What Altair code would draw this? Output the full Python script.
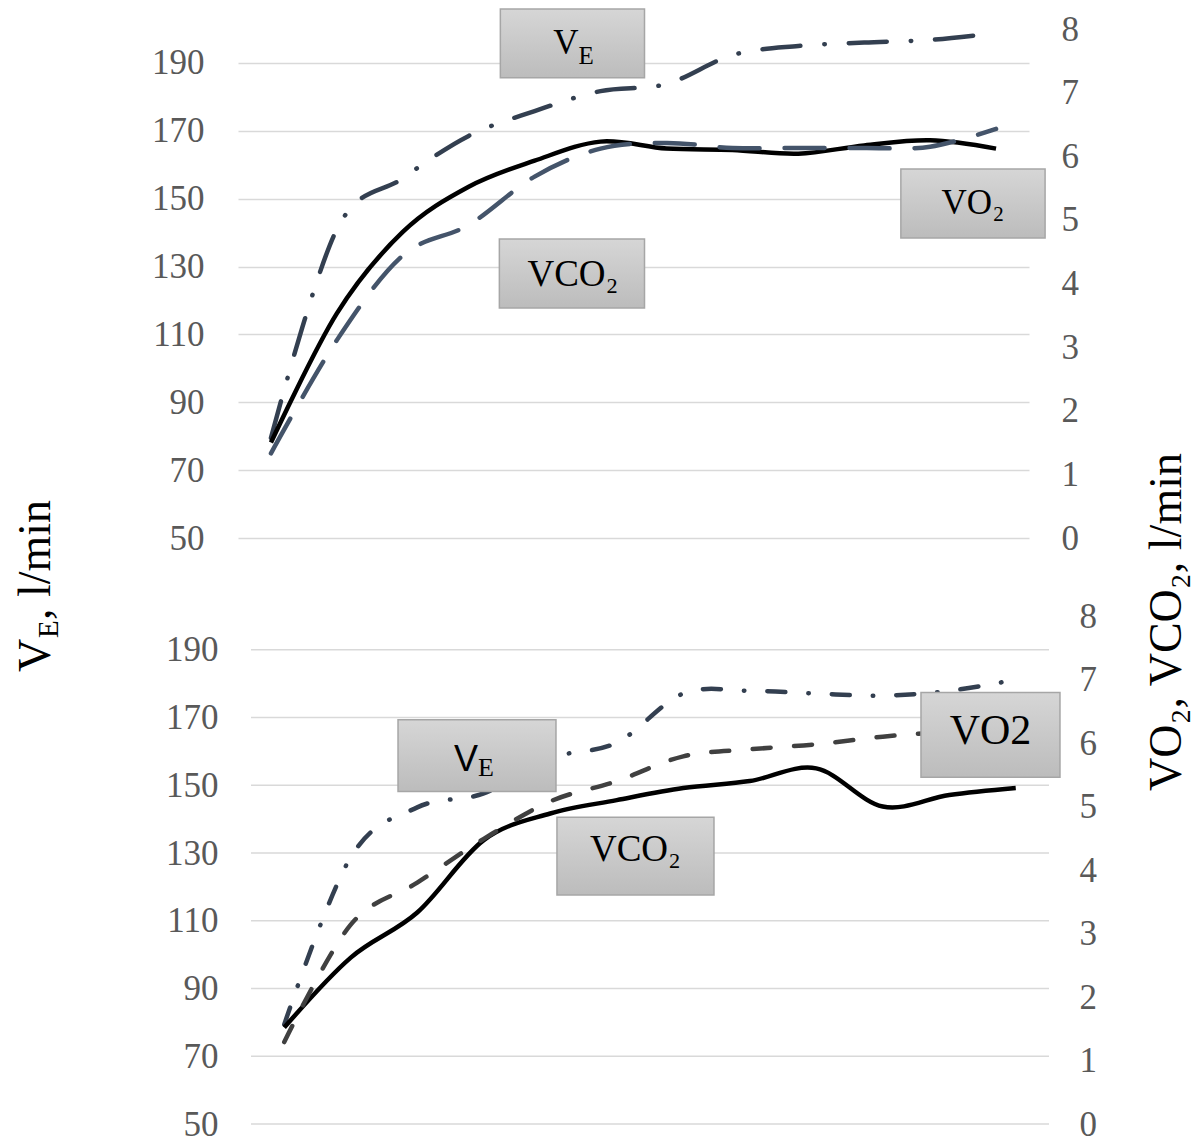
import altair as alt
import pandas as pd

# ---------------- data ----------------
idx = list(range(12))

top_ve = [79.5, 141.0, 156.0, 168.5, 175.8, 181.7, 183.8, 192.3, 195.0, 196.0, 196.8, 198.8]
top_vo2 = [1.50, 3.53, 4.81, 5.52, 5.93, 6.23, 6.12, 6.10, 6.04, 6.17, 6.25, 6.12]
top_vco2 = [1.33, 3.11, 4.44, 4.92, 5.68, 6.12, 6.21, 6.13, 6.13, 6.13, 6.15, 6.43]

bot_ve = [79.4, 128.8, 143.5, 147.6, 158.0, 162.6, 177.1, 177.9, 177.1, 176.5, 177.9, 181.2]
bot_vo2 = [1.52, 2.62, 3.33, 4.47, 4.89, 5.10, 5.29, 5.40, 5.60, 5.00, 5.18, 5.29]
bot_vco2 = [1.29, 3.14, 3.80, 4.49, 5.08, 5.40, 5.79, 5.90, 5.98, 6.10, 6.18, 6.26]

left_ticks = [50, 70, 90, 110, 130, 150, 170, 190]
right_ticks = [0, 1, 2, 3, 4, 5, 6, 7, 8]

# label boxes: name, x1, x2 (category index), y1, y2 (left-axis units)
top_boxes = [
    ("VE", 3.480, 5.667, 185.6, 205.9),
    ("VCO2", 3.465, 5.667, 117.8, 138.1),
    ("VO2", 9.556, 11.744, 138.4, 158.75),
]
bot_boxes = [
    ("VE", 1.711, 4.086, 148.2, 169.4),
    ("VCO2", 4.101, 6.462, 117.6, 140.6),
    ("VO2", 9.575, 11.665, 152.4, 177.4),
]

# ---------------- styles ----------------
SERIF = "Liberation Serif"
LABEL_COLOR = "#595959"
GRID = "#d9d9d9"
NAVY = "#333f50"
SLATE = "#44546a"
DARK = "#404040"

box_fill = alt.LinearGradient(
    gradient="linear",
    stops=[alt.GradientStop(color="#d6d6d6", offset=0),
           alt.GradientStop(color="#bcbcbc", offset=1)],
    x1=0, x2=0, y1=0, y2=1,
)


def panel(ve, vo2, vco2, boxes, texts, xdom, width, height,
          lpad, rpad, grid_axis, vco2_color, ve_dash, vco2_dash, extra=None):
    df = pd.DataFrame({"i": idx, "VE": ve, "VO2": vo2, "VCO2": vco2})
    xenc = alt.X("i:Q", scale=alt.Scale(domain=xdom, nice=False, zero=False), axis=None)
    lscale = alt.Scale(domain=[50, 200], nice=False, zero=False)
    rscale = alt.Scale(domain=[0, 8], nice=False, zero=False)
    laxis = alt.Axis(orient="left", values=left_ticks, title=None, ticks=False, domain=False,
                     grid=grid_axis, gridColor=GRID, gridWidth=1.5,
                     labelFont=SERIF, labelFontSize=35, labelColor=LABEL_COLOR,
                     labelPadding=lpad)
    raxis = alt.Axis(orient="right", values=right_ticks, title=None, ticks=False, domain=False,
                     grid=False, labelFont=SERIF, labelFontSize=35, labelColor=LABEL_COLOR,
                     labelPadding=rpad)

    base = alt.Chart(df).encode(x=xenc)
    left_layers = []
    if not grid_axis:
        gdf = pd.DataFrame({"v": left_ticks})
        left_layers.append(
            alt.Chart(gdf).mark_rule(color=GRID, strokeWidth=1.5).encode(
                y=alt.Y("v:Q", scale=lscale, axis=laxis),
                x=alt.value(13), x2=alt.value(width),
            )
        )
    left_layers.append(
        base.mark_line(color=NAVY, strokeWidth=4.5, strokeDash=ve_dash, strokeCap="round",
                       interpolate="cardinal").encode(y=alt.Y("VE:Q", scale=lscale, axis=laxis))
    )
    L = alt.layer(*left_layers)

    R = alt.layer(
        base.mark_line(color="black", strokeWidth=4.5, interpolate="cardinal").encode(
            y=alt.Y("VO2:Q", scale=rscale, axis=raxis)),
        base.mark_line(color=vco2_color, strokeWidth=4.5, strokeDash=vco2_dash,
                       strokeCap="round", interpolate="cardinal").encode(
            y=alt.Y("VCO2:Q", scale=rscale, axis=raxis)),
    )

    bdf = pd.DataFrame(boxes, columns=["name", "x1", "x2", "y1", "y2"])
    bscale = alt.Scale(domain=[50, 200], nice=False, zero=False)
    blayers = [
        alt.Chart(bdf).mark_rect(fill=box_fill, stroke="#a6a6a6", strokeWidth=1.5).encode(
            x=alt.X("x1:Q", scale=alt.Scale(domain=xdom, nice=False, zero=False), axis=None),
            x2="x2:Q",
            y=alt.Y("y1:Q", scale=bscale, axis=None),
            y2="y2:Q",
        )
    ]
    centers = {b[0]: ((b[1] + b[2]) / 2, (b[3] + b[4]) / 2) for b in boxes}
    for (txt, box, dx, dy, size, align, font) in texts:
        cx, cy = centers[box]
        tdf = pd.DataFrame({"cx": [cx], "cy": [cy], "t": [txt]})
        blayers.append(
            alt.Chart(tdf).mark_text(dx=dx, dy=dy, fontSize=size, align=align,
                                     baseline="alphabetic", font=font, color="black").encode(
                x=alt.X("cx:Q", scale=alt.Scale(domain=xdom, nice=False, zero=False), axis=None),
                y=alt.Y("cy:Q", scale=bscale, axis=None),
                text="t:N",
            )
        )
    B = alt.layer(*blayers)
    layers = [L, R, B]
    if extra is not None:
        layers.append(extra)
    return alt.layer(*layers).resolve_scale(y="independent").properties(width=width, height=height)


top_texts = [
    ("V", "VE", 6, 10.5, 35, "right", SERIF),
    ("E", "VE", 6, 20.5, 25, "left", SERIF),
    ("VCO\u2082", "VCO2", 1, 12.5, 37, "center", SERIF),
    ("VO\u2082", "VO2", 0, 10.5, 35, "center", SERIF),
]
bot_texts = [
    ("V", "VE", 1, 15, 36, "right", "Liberation Sans"),
    ("E", "VE", 1, 20, 26, "left", SERIF),
    ("VCO\u2082", "VCO2", 0, 5, 37, "center", SERIF),
    ("VO2", "VO2", 0, 9.5, 42, "center", SERIF),
]

# shared axis titles, drawn as text (with subscripts) next to the top panel
one = alt.Data(values=[{"a": 1}])
titles = alt.layer(
    alt.Chart(one).mark_rule(color="white", strokeWidth=1).encode(
        x=alt.value(-229), x2=alt.value(-229), y=alt.value(300), y2=alt.value(301)),
    alt.Chart(one).mark_text(text="V", angle=270, align="left", baseline="alphabetic",
                             font=SERIF, fontSize=46, color="black").encode(
        x=alt.value(-188), y=alt.value(643)),
    alt.Chart(one).mark_text(text="E", angle=270, align="left", baseline="alphabetic",
                             font=SERIF, fontSize=29, color="black").encode(
        x=alt.value(-180), y=alt.value(609)),
    alt.Chart(one).mark_text(text=", l/min", angle=270, align="left", baseline="alphabetic",
                             font=SERIF, fontSize=46, color="black").encode(
        x=alt.value(-188), y=alt.value(591)),
    alt.Chart(one).mark_text(text="VO\u2082,  VCO\u2082, l/min", angle=270, align="center",
                             baseline="alphabetic", font=SERIF, fontSize=46,
                             color="black").encode(
        x=alt.value(943), y=alt.value(593)),
)

top = panel(top_ve, top_vo2, top_vco2, top_boxes, top_texts, [-0.5, 11.5], 791, 509,
            34, 32, True, SLATE, [38, 24, 0.5, 24], [40, 25], extra=titles)
bottom = panel(bot_ve, bot_vo2, bot_vco2, bot_boxes, bot_texts, [-0.6955, 11.5], 811, 508,
               20, 30, False, DARK, [18, 23, 0.5, 23], [18, 23.5])

chart = alt.vconcat(top, bottom, spacing=78, bounds="flush").properties(
    padding=0
).configure_view(stroke=None)

chart.save("out.html", embed_options={"renderer": "svg", "actions": False})
